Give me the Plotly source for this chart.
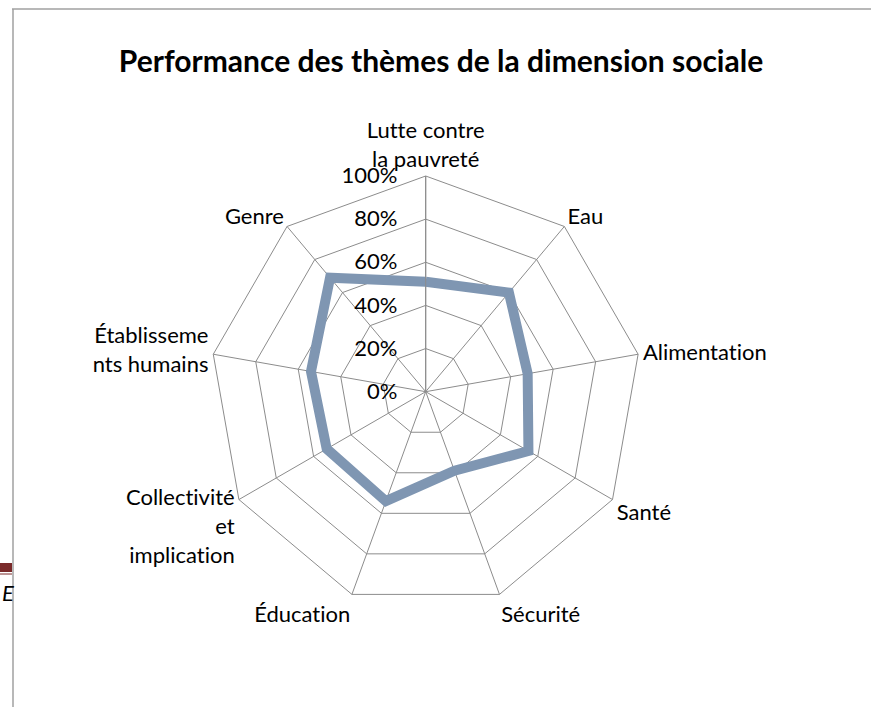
import plotly.graph_objects as go

categories = [
    "Lutte contre<br>la pauvreté",
    "Eau",
    "Alimentation",
    "Santé",
    "Sécurité",
    "Éducation",
    "Collectivité<br>et<br>implication",
    "Établisseme<br>nts humains",
    "Genre",
]
values = [51, 60, 48, 55, 39, 54, 53, 54, 69]
radial_ticks = [0, 20, 40, 60, 80, 100]
radial_labels = ["0%", "20%", "40%", "60%", "80%", "100%"]

W, H = 871, 707
cx, cy, R = 425.7, 391.7, 215.7
FONT = "Lato, Carlito, Calibri, sans-serif"

fig = go.Figure()
fig.add_trace(go.Scatterpolar(
    r=values + values[:1],
    theta=categories + categories[:1],
    mode="lines",
    line=dict(color="#7F96B2", width=10),
    hoverinfo="skip",
    showlegend=False,
))

grid = "#8C8C8C"
fig.update_layout(
    width=W, height=H,
    margin=dict(l=0, r=0, t=0, b=0),
    paper_bgcolor="white",
    plot_bgcolor="white",
    font=dict(family=FONT, color="black", size=22),
    title=dict(
        text="<b>Performance des thèmes de la dimension sociale</b>",
        x=441 / W, xanchor="center",
        y=1 - 61 / H, yanchor="middle",
        font=dict(size=30, family=FONT, color="black"),
    ),
    polar=dict(
        domain=dict(x=[(cx - R) / W, (cx + R) / W],
                    y=[(H - cy - R) / H, (H - cy + R) / H]),
        gridshape="linear",
        bgcolor="white",
        angularaxis=dict(
            direction="clockwise",
            rotation=90,
            showline=True,
            linecolor=grid,
            linewidth=1,
            gridcolor=grid,
            gridwidth=1,
            ticks="",
            tickfont=dict(size=22),
        ),
        radialaxis=dict(
            range=[0, 100],
            tickvals=radial_ticks,
            ticktext=radial_labels,
            angle=90,
            tickangle=90,
            side="counterclockwise",
            showline=True,
            linecolor=grid,
            gridcolor=grid,
            gridwidth=1,
            ticks="outside",
            ticklen=20,
            tickcolor="rgba(0,0,0,0)",
            tickfont=dict(size=22),
        ),
    ),
    shapes=[
        dict(type="line", xref="paper", yref="paper",
             x0=12 / W, x1=1, y0=1 - 9 / H, y1=1 - 9 / H,
             line=dict(color="#A0A0A0", width=1.5)),
        dict(type="line", xref="paper", yref="paper",
             x0=13 / W, x1=13 / W, y0=0, y1=1 - 9 / H,
             line=dict(color="#A0A0A0", width=1.5)),
        dict(type="rect", xref="paper", yref="paper",
             x0=0, x1=12 / W, y0=1 - 572 / H, y1=1 - 563 / H,
             fillcolor="#7A2A2A", line=dict(width=0)),
        dict(type="line", xref="paper", yref="paper",
             x0=0, x1=12 / W, y0=1 - 574 / H, y1=1 - 574 / H,
             line=dict(color="#7A2A2A", width=1)),
    ],
    annotations=[
        dict(text="<i>E</i>", xref="paper", yref="paper",
             x=0, y=1 - 592 / H, xanchor="left", yanchor="middle",
             showarrow=False, font=dict(size=22, color="black")),
    ],
)

post = (
    "document.body.style.margin='0';"
    "var s=document.createElement('style');"
    "s.textContent='text{font-variant-ligatures:none !important;font-feature-settings:\"liga\" 0,\"clig\" 0 !important;}';"
    "document.head.appendChild(s);"
)
fig.write_html("out.html", post_script=post, config={"displayModeBar": False})
